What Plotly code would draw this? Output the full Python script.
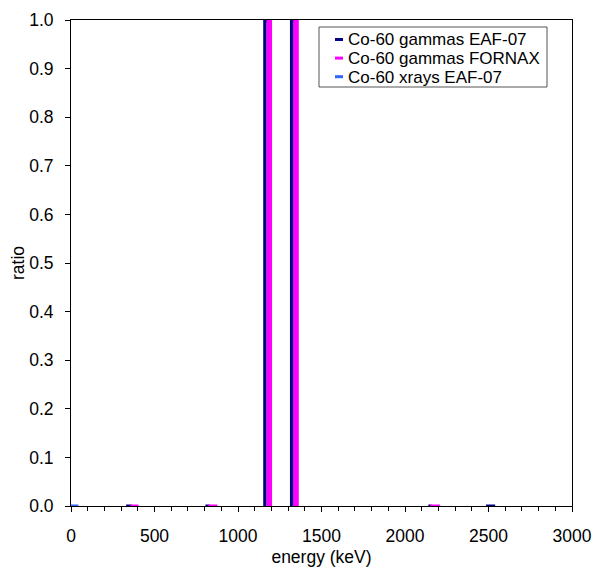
import plotly.graph_objects as go

# Histogram-style peaks: bin low edge, bin high edge, ratio
eaf_gam_lo = [330, 805, 1160, 1320, 2140, 2485]
eaf_gam_hi = [355, 822, 1180, 1340, 2150, 2540]
eaf_gam_ratio = [7.5e-5, 7.6e-5, 0.9985, 1.0, 1.2e-5, 2.0e-8]

forn_gam_lo = [355, 822, 1180, 1340, 2150]
forn_gam_hi = [395, 868, 1195, 1355, 2200]
forn_gam_ratio = [7.5e-5, 7.6e-5, 0.9985, 1.0, 1.2e-5]

eaf_xr_lo = [0]
eaf_xr_hi = [35]
eaf_xr_ratio = [1.0e-4]

names = ["Co-60 gammas EAF-07", "Co-60 gammas FORNAX", "Co-60 xrays EAF-07"]
colors = ["#000080", "#FF00FF", "#3366FF"]

x_ticks = [0, 500, 1000, 1500, 2000, 2500, 3000]


def steps(lo, hi, r):
    xs, ys = [], []
    for a, b, v in zip(lo, hi, r):
        xs += [a, a, b, b, None]
        ys += [0, v, v, 0, None]
    return xs, ys


fig = go.Figure()
series = [(eaf_gam_lo, eaf_gam_hi, eaf_gam_ratio),
          (forn_gam_lo, forn_gam_hi, forn_gam_ratio),
          (eaf_xr_lo, eaf_xr_hi, eaf_xr_ratio)]
for (lo, hi, r), nm, c in zip(series, names, colors):
    xs, ys = steps(lo, hi, r)
    fig.add_trace(go.Scatter(x=xs, y=ys, mode="lines", name=nm,
                             line=dict(color=c, width=3),
                             showlegend=False, cliponaxis=False))

FAM = "Liberation Sans, Arial, sans-serif"
font = dict(family=FAM, size=17.5, color="black")

fig.update_layout(
    width=594, height=572,
    margin=dict(l=71, r=22, t=20, b=66, autoexpand=False),
    paper_bgcolor="white", plot_bgcolor="white",
    font=font,
    xaxis=dict(range=[0, 3000], tickvals=x_ticks, ticks="outside", ticklen=5,
               tickcolor="black", showline=True, linecolor="black", linewidth=1,
               mirror=True, showgrid=False, zeroline=False, automargin=False,
               minor=dict(dtick=100, ticks="outside", ticklen=4, tickcolor="black"),
               ticklabelstandoff=9, tickfont=font,
               title=dict(text="energy (keV)", standoff=5, font=font)),
    yaxis=dict(range=[0, 1], dtick=0.1, tickformat=".1f", ticks="outside", ticklen=5,
               tickcolor="black", showline=True, linecolor="black", linewidth=1,
               mirror=True, showgrid=False, zeroline=False, automargin=False,
               ticklabelstandoff=8, tickfont=font,
               title=dict(text="ratio", standoff=0, font=font)),
)

# Manual legend (box, short line symbols, labels) positioned in pixels
lx0, lx1, ly0, ly1 = 319, 547, 27, 87


def fx(x):
    return (x - 71) / 501


def fy(y):
    return (506 - y) / 486


fig.add_shape(type="rect", xref="paper", yref="paper",
              x0=fx(lx0), x1=fx(lx1), y0=fy(ly1), y1=fy(ly0),
              line=dict(color="#555555", width=1), fillcolor="white", layer="above")
for i, (nm, c) in enumerate(zip(names, colors)):
    yy = 39.5 + i * 18.6
    fig.add_shape(type="line", xref="paper", yref="paper",
                  x0=fx(335), x1=fx(343), y0=fy(yy), y1=fy(yy),
                  line=dict(color=c, width=3), layer="above")
    fig.add_annotation(xref="paper", yref="paper", x=fx(347), y=fy(yy),
                       text=nm, showarrow=False, xanchor="left", yanchor="middle",
                       height=18, borderpad=0,
                       font=dict(family=FAM, size=17, color="black"))

fig.write_html("out.html")
